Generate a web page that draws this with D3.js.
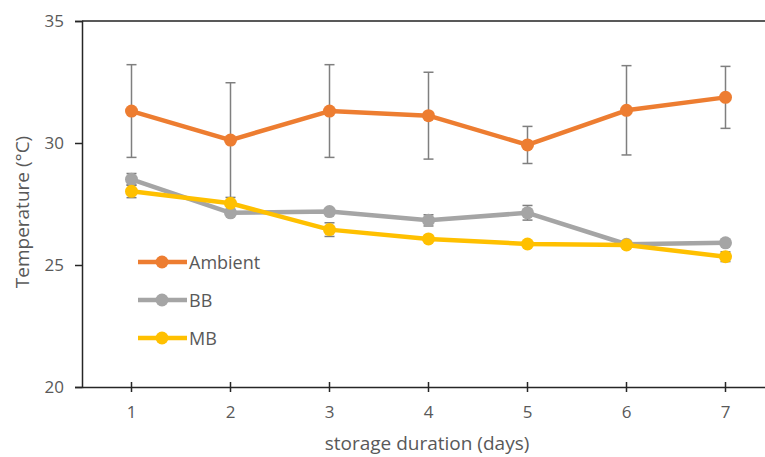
<!DOCTYPE html>
<html>
<head>
<meta charset="utf-8">
<script src="https://cdn.jsdelivr.net/npm/d3@7"></script>
<style>
  body { margin: 0; background: #fff; }
  svg text { font-family: "Open Sans", sans-serif; fill: #595959; }
</style>
</head>
<body>
<div id="chart"></div>
<script>
  // storage days on the x axis
  var days = [1, 2, 3, 4, 5, 6, 7];

  // mean temperature (°C) and error per series
  var ambient = [31.31, 30.12, 31.31, 31.12, 29.92, 31.34, 31.87];
  var ambientErr = [1.9, 2.35, 1.9, 1.78, 0.76, 1.83, 1.27];
  var bb = [28.51, 27.14, 27.19, 26.83, 27.14, 25.85, 25.91];
  var bbErr = [0.24, 0.05, 0.05, 0.23, 0.3, 0.05, 0.05];
  var mb = [28.02, 27.53, 26.45, 26.07, 25.86, 25.82, 25.34];
  var mbErr = [0.26, 0.05, 0.28, 0.05, 0.05, 0.05, 0.2];

  var yTicks = [20, 25, 30, 35];

  var series = [
    { name: "Ambient", values: ambient, err: ambientErr, color: "#ED7D31" },
    { name: "BB", values: bb, err: bbErr, color: "#A5A5A5" },
    { name: "MB", values: mb, err: mbErr, color: "#FFC000" }
  ];

  var width = 765;
  var height = 457;

  var svg = d3.select("#chart")
    .append("svg")
    .attr("width", width)
    .attr("height", height);

  var x = d3.scaleBand()
    .domain(days)
    .range([82, 775]);

  var y = d3.scaleLinear()
    .domain([20, 35])
    .range([387, 21]);

  function cx(d) { return x(d) + x.bandwidth() / 2; }

  //top border of plot area
  svg.append("line")
    .attr("x1", 82).attr("x2", width)
    .attr("y1", y(35)).attr("y2", y(35))
    .attr("stroke", "#595959")
    .attr("stroke-width", 2);

  //y axis
  var yAxis = svg.append("g")
    .attr("transform", "translate(82,0)")
    .call(d3.axisLeft(y).tickValues(yTicks).tickSize(7).tickPadding(11));
  yAxis.select(".domain").attr("stroke", "#262626").attr("stroke-width", 1.5);
  yAxis.selectAll(".tick line").attr("stroke", "#262626").attr("stroke-width", 1.5);
  yAxis.selectAll("text").style("font-size", "17px").attr("fill", "#595959");

  //x axis, ticks cross the line
  var xAxis = svg.append("g")
    .attr("transform", "translate(0," + y(20) + ")")
    .call(d3.axisBottom(x).tickSize(5).tickPadding(14).tickSizeOuter(0));
  xAxis.select(".domain").attr("stroke", "#262626").attr("stroke-width", 1.5);
  xAxis.selectAll(".tick line")
    .attr("y1", -5)
    .attr("stroke", "#262626").attr("stroke-width", 1.5);
  xAxis.selectAll("text").style("font-size", "17px").attr("fill", "#595959");

  //axis titles
  svg.append("text")
    .attr("x", 427)
    .attr("y", 450)
    .attr("text-anchor", "middle")
    .style("font-size", "19px")
    .text("storage duration (days)");

  svg.append("text")
    .attr("transform", "translate(29,212) rotate(-90)")
    .attr("text-anchor", "middle")
    .style("font-size", "19px")
    .text("Temperature (°C)");

  var line = d3.line()
    .x(function(d, i) { return cx(days[i]); })
    .y(function(d) { return y(d); });

  //error bars under the lines
  series.forEach(function(s) {
    var g = svg.append("g").attr("class", "err");
    s.values.forEach(function(v, i) {
      var px = cx(days[i]);
      var top = y(v + s.err[i]);
      var bot = y(v - s.err[i]);
      g.append("line")
        .attr("x1", px).attr("x2", px).attr("y1", top).attr("y2", bot)
        .attr("stroke", "#7F7F7F").attr("stroke-width", 1.5);
      [top, bot].forEach(function(c) {
        g.append("line")
          .attr("x1", px - 5).attr("x2", px + 5).attr("y1", c).attr("y2", c)
          .attr("stroke", "#7F7F7F").attr("stroke-width", 1.5);
      });
    });
  });

  //lines and markers, yellow last (on top)
  series.forEach(function(s) {
    svg.append("path")
      .datum(s.values)
      .attr("d", line)
      .attr("fill", "none")
      .attr("stroke", s.color)
      .attr("stroke-width", 4.5)
      .attr("stroke-linejoin", "round");
    svg.selectAll(null)
      .data(s.values)
      .enter().append("circle")
      .attr("cx", function(d, i) { return cx(days[i]); })
      .attr("cy", function(d) { return y(d); })
      .attr("r", 6.5)
      .attr("fill", s.color);
  });

  //legend
  var legend = svg.append("g").attr("transform", "translate(138,262)");
  series.forEach(function(s, i) {
    var row = legend.append("g").attr("transform", "translate(0," + i * 38 + ")");
    row.append("line")
      .attr("x1", 0).attr("x2", 49)
      .attr("stroke", s.color).attr("stroke-width", 4.5);
    row.append("circle")
      .attr("cx", 24).attr("r", 6.5).attr("fill", s.color);
    row.append("text")
      .attr("x", 51).attr("y", 6.5)
      .style("font-size", "18px")
      .text(s.name);
  });
</script>
</body>
</html>
